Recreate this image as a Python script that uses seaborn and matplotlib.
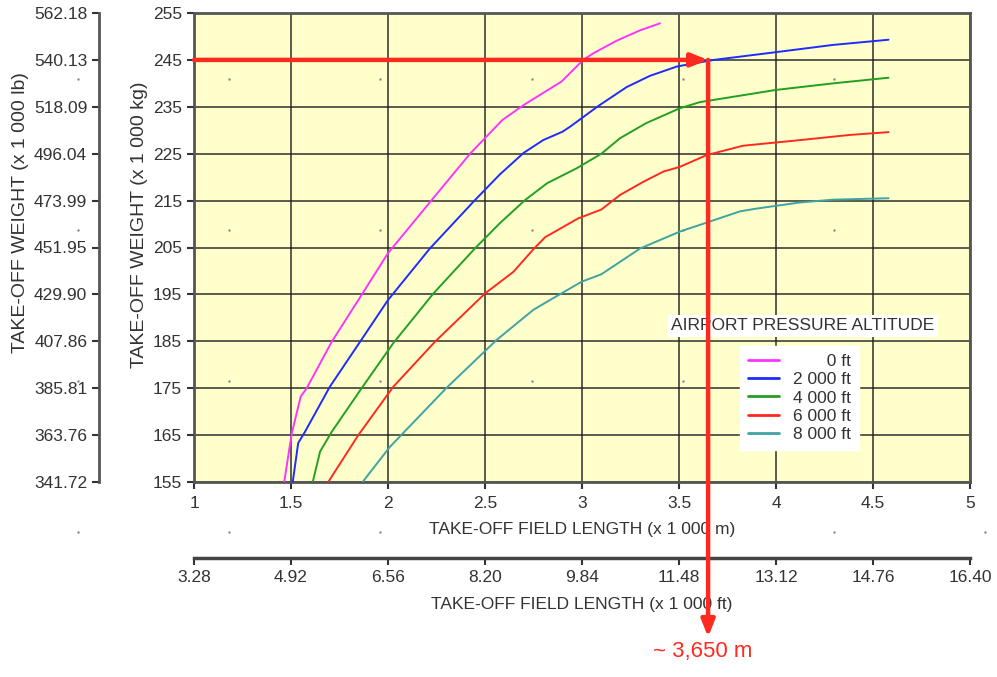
import numpy as np
import pandas as pd
import matplotlib
matplotlib.use("Agg")
import matplotlib.pyplot as plt
import seaborn as sns

# chart data: take-off field length (x 1000 m) vs take-off weight (x 1000 kg)
altitudes = ["0 ft", "2 000 ft", "4 000 ft", "6 000 ft", "8 000 ft"]
len_0 = [1.465, 1.504, 1.55, 1.581, 1.71, 1.864, 2.0, 2.225, 2.423, 2.49, 2.59, 2.70,
         2.895, 3.006, 3.058, 3.179, 3.299, 3.402]
wt_0 = [155, 165.4, 173.2, 175, 184.9, 194.9, 203.8, 215.1, 225, 227.9, 232.2, 235.4,
        240.4, 245.0, 246.4, 249.1, 251.3, 252.8]
len_2k = [1.509, 1.537, 1.572, 1.70, 1.856, 2.0, 2.216, 2.448, 2.577, 2.70, 2.80, 2.90,
          2.94, 3.085, 3.23, 3.35, 3.49, 3.68, 3.99, 4.295, 4.58]
wt_2k = [155, 163.3, 165.7, 175.3, 184.9, 193.8, 204.8, 215.1, 220.6, 225.2, 227.9, 229.7,
         230.8, 235.2, 239.2, 241.6, 243.6, 245, 246.6, 248.2, 249.3]
len_4k = [1.612, 1.65, 1.71, 1.864, 2.027, 2.234, 2.448, 2.577, 2.706, 2.82, 2.973, 3.10,
          3.196, 3.33, 3.505, 3.608, 4.0, 4.295, 4.58]
wt_4k = [155, 161.5, 165.7, 175, 184.6, 195.2, 204.8, 210.2, 215.1, 218.7, 221.9, 225,
         228.3, 231.5, 234.7, 236, 238.6, 240, 241.2]
len_6k = [1.692, 1.847, 2.027, 2.242, 2.5, 2.646, 2.749, 2.81, 2.98, 3.10, 3.196, 3.316,
          3.42, 3.505, 3.642, 3.83, 4.124, 4.38, 4.58]
wt_6k = [155, 165, 175.3, 184.9, 195.2, 199.8, 204.6, 207.2, 211.2, 213.1, 216.2, 219,
         221.2, 222.2, 224.7, 226.7, 227.9, 229, 229.6]
len_8k = [1.869, 2.01, 2.30, 2.56, 2.749, 2.835, 2.998, 3.10, 3.30, 3.505, 3.642, 3.814,
          3.90, 4.124, 4.295, 4.58]
wt_8k = [155, 162.5, 175, 185.3, 191.7, 193.8, 197.7, 199.3, 204.8, 208.4, 210.3, 212.7,
         213.3, 214.6, 215.2, 215.5]

colors = ["#ff33ff", "#1f2bff", "#22a022", "#ff2a1f", "#3fa3a3"]
length_ticks = [1, 1.5, 2, 2.5, 3, 3.5, 4, 4.5, 5]
weight_ticks = [155, 165, 175, 185, 195, 205, 215, 225, 235, 245, 255]
KG_TO_LB = 2.20462262
M_TO_FT = 3.28084

# worked example
target_weight = 245
result_length = 3.65

df = pd.concat([
    pd.DataFrame({"length": l, "weight": w, "altitude": a})
    for l, w, a in zip([len_0, len_2k, len_4k, len_6k, len_8k],
                       [wt_0, wt_2k, wt_4k, wt_6k, wt_8k], altitudes)
], ignore_index=True)

sns.set_theme(style="ticks")
plt.rcParams["font.family"] = ["Liberation Sans", "DejaVu Sans"]
plt.rcParams["text.color"] = "#333333"
plt.rcParams["axes.labelcolor"] = "#333333"
plt.rcParams["xtick.color"] = "#333333"
plt.rcParams["ytick.color"] = "#333333"

W, H = 997, 677
fig = plt.figure(figsize=(W / 100, H / 100), dpi=100)
ax = fig.add_axes([194 / W, 1 - 482 / H, 776 / W, 469 / H])
ax.set_facecolor("#ffffcc")

sns.lineplot(data=df, x="length", y="weight", hue="altitude", hue_order=altitudes,
             palette=dict(zip(altitudes, colors)), estimator=None, sort=False,
             linewidth=1.4, ax=ax, zorder=3)

ax.set_xlim(length_ticks[0], length_ticks[-1])
ax.set_ylim(weight_ticks[0], weight_ticks[-1])
ax.set_xticks(length_ticks)
ax.set_xticklabels([f"{v:g}" for v in length_ticks])
ax.set_yticks(weight_ticks)
ax.tick_params(labelsize=12.5, length=5, width=1.5, color="#333333", direction="out")
ax.tick_params(axis="x", pad=5)
ax.grid(True, color="#1e1e1e", linewidth=1.2, alpha=0.85)
for s in ax.spines.values():
    s.set_color("#555555")
    s.set_linewidth(2)
ax.set_xlabel("TAKE-OFF FIELD LENGTH (x 1 000 m)", fontsize=12.5, labelpad=8)
ax.set_ylabel("TAKE-OFF WEIGHT (x 1 000 kg)", fontsize=14)
ax.yaxis.set_label_coords(148 / W, 1 - 225 / H, transform=fig.transFigure)

# pound scale on the left
lb = ax.secondary_yaxis(-0.1224, functions=(lambda w: w * KG_TO_LB, lambda p: p / KG_TO_LB))
lb.set_yticks([t * KG_TO_LB for t in weight_ticks])
lb.set_yticklabels([f"{t * KG_TO_LB:.2f}" for t in weight_ticks])
lb.tick_params(labelsize=12.5, length=5, width=1.5, color="#333333")
lb.spines["left"].set_color("#555555")
lb.spines["left"].set_linewidth(2)
lb.set_ylabel("TAKE-OFF WEIGHT (x 1 000 lb)", fontsize=14)
lb.yaxis.set_label_coords(29 / W, 1 - 213 / H, transform=fig.transFigure)

# feet scale below
ft = ax.secondary_xaxis(-0.162, functions=(lambda m: m * M_TO_FT, lambda f: f / M_TO_FT))
ft.set_xticks([t * M_TO_FT for t in length_ticks])
ft.set_xticklabels([f"{t * M_TO_FT:.2f}" for t in length_ticks])
ft.tick_params(labelsize=12.5, length=5, width=1.5, color="#333333")
ft.spines["bottom"].set_color("#444444")
ft.spines["bottom"].set_linewidth(2.5)
ft.set_xlabel("TAKE-OFF FIELD LENGTH (x 1 000 ft)", fontsize=12.5, labelpad=9)

# faint dot pattern of the original sheet
gx = 78 + 151.2 * np.arange(7)
gy = 79 + 151 * np.arange(4)
dots = [(x, y) for y in gy for x in gx
        if not (y > 500 and 420 < x < 745)
        and (x < 150 or 150 < x < 900 and y < 450 or y > 500)]
ax.scatter([d[0] / W for d in dots], [1 - d[1] / H for d in dots], s=3, color="#888888",
           transform=fig.transFigure, clip_on=False, zorder=1.5, linewidths=0)

# legend
handles, labels = ax.get_legend_handles_labels()
pad = {"0 ft": "\u2007\u2007\u2007 0 ft"}
leg = ax.legend(handles, [pad.get(l, l) for l in labels], loc="upper left",
                bbox_to_anchor=(740 / W, 1 - 346 / H), bbox_transform=fig.transFigure,
                fontsize=12.5, frameon=True, fancybox=False, framealpha=1,
                facecolor="white", edgecolor="white", borderaxespad=0,
                handlelength=1.8, labelspacing=0.18, borderpad=0.45)
leg.set_zorder(5)
for line in leg.get_lines():
    line.set_linewidth(2)
ax.text(803 / W, 1 - 326 / H, "AIRPORT PRESSURE ALTITUDE", transform=fig.transFigure,
        ha="center", va="center", fontsize=12.5, zorder=5,
        bbox=dict(facecolor="white", edgecolor="none", pad=2.5))

# worked example arrows
red = "#ff2a1f"
style = "-|>,head_length=0.5,head_width=0.2"
for start, end, coords in [((length_ticks[0], target_weight), (result_length, target_weight), "data"),
                           ((result_length, target_weight), (result_length, 1 - 637 / H),
                            ("data", "figure fraction"))]:
    ax.annotate("", xy=end, xycoords=coords, xytext=start, textcoords="data",
                arrowprops=dict(arrowstyle=style, color=red, lw=3.2, mutation_scale=20,
                                shrinkA=0, shrinkB=0), annotation_clip=False, zorder=7)
fig.text(703 / W, 1 - 651 / H, "~ 3,650 m", color=red, fontsize=16, ha="center", va="center")

fig.savefig("out.png", dpi=100, facecolor="white")
